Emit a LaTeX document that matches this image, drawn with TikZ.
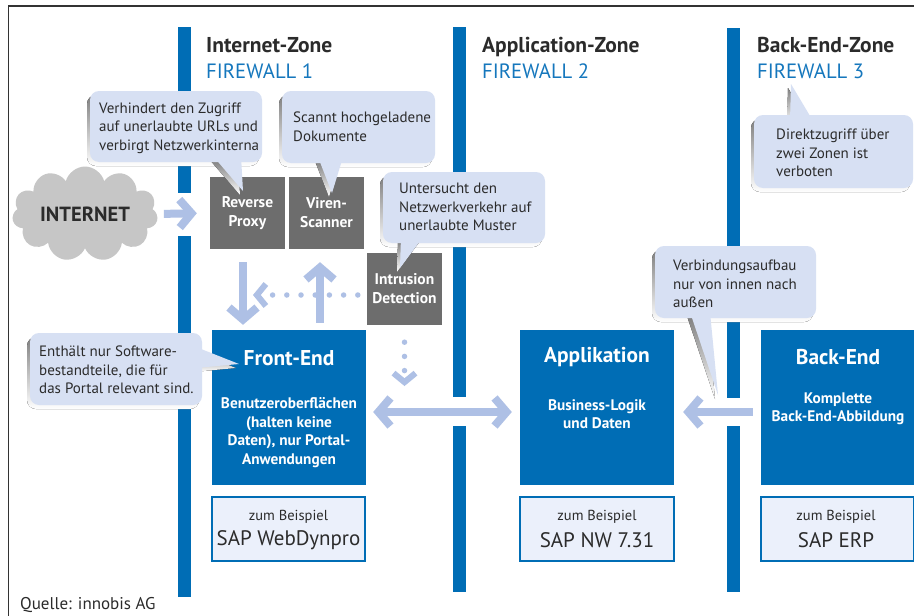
\documentclass[tikz,border=0pt]{standalone}
\usepackage{fontspec}
\setmainfont{PT Sans}
\usetikzlibrary{arrows.meta,shapes.symbols,calc}
\definecolor{fwblue}{HTML}{006DB5}
\definecolor{fwtext}{HTML}{1577BD}
\definecolor{callfill}{HTML}{D7E0F3}
\definecolor{shade}{HTML}{4D4D4D}
\definecolor{graybox}{HTML}{6D6D6D}
\definecolor{arrowc}{HTML}{AEC0E5}
\definecolor{exfill}{HTML}{EBF0FB}
\definecolor{txt}{HTML}{2B2B2B}
\definecolor{cloudgray}{HTML}{C6C6C6}
\newcommand\mybubble[2]{%
  \fill[shade,shift={(-3,4)},rounded corners=9pt] #1;
  \fill[shade,shift={(-3,4)}] #2;
  \fill[callfill,rounded corners=9pt] #1;
  \fill[callfill] #2;}
\tikzset{
  ztitle/.style={font=\bfseries\fontsize{21.5}{24}\selectfont, text=txt, anchor=base west, inner sep=0pt},
  fwlabel/.style={font=\fontsize{20.7}{24}\selectfont, text=fwtext, anchor=base west, inner sep=0pt},
  graynode/.style={fill=graybox, text=white, font=\bfseries\fontsize{15.5}{19}\selectfont, align=center, minimum width=75pt, minimum height=72pt, inner sep=0pt},
  bluebox/.style={fill=fwblue, minimum width=154pt, minimum height=155pt, inner sep=0pt},
  boxtitle/.style={text=white, font=\bfseries\fontsize{21.4}{24}\selectfont, inner sep=0pt},
  boxbody/.style={text=white, font=\bfseries\fontsize{15.3}{18.5}\selectfont, align=center, inner sep=0pt},
  exbox/.style={fill=exfill, draw=fwblue, line width=2pt, minimum width=153pt, minimum height=64pt, inner sep=0pt},
  exsmall/.style={text=txt, font=\fontsize{14.5}{16}\selectfont, inner sep=0pt},
  exbig/.style={text=txt, font=\fontsize{21}{24}\selectfont, inner sep=0pt},
  calltext/.style={text=txt, font=\fontsize{15}{18.5}\selectfont, align=left, anchor=west, inner sep=0pt},
  fatarrow/.style={draw=arrowc, line width=8pt, -{Straight Barb[length=12pt,width=28pt]}},
  dblarrow/.style={draw=arrowc, line width=8pt, {Straight Barb[length=12pt,width=28pt]}-{Straight Barb[length=12pt,width=28pt]}},
  dotarrow/.style={draw=arrowc, line width=5.5pt, line cap=round, dash pattern=on 0pt off 14.2pt, -{Straight Barb[length=9pt,width=22pt,line width=6pt]}},
  fwbar/.style={fill=fwblue},
}
\begin{document}
\begin{tikzpicture}[x=1pt,y=-1pt]
\useasboundingbox (0,0) rectangle (914,616);
\fill[white] (0,0) rectangle (914,616);
% frame
\draw[line width=1.3pt, black!80] (8.5,616) -- (8.5,6) -- (914,6);
% firewall bars
\fill[fwbar] (178,27) rectangle (191,193);
\fill[fwbar] (178,236) rectangle (191,597);
\fill[fwbar] (453,27) rectangle (466,397);
\fill[fwbar] (453,426) rectangle (466,592);
\fill[fwbar] (727,28) rectangle (740,398);
\fill[fwbar] (727,426) rectangle (740,592);
% zone titles
\node[ztitle] (z1) at (206,52) {Internet-Zone};
\node[fwlabel] (f1) at (206,78) {FIREWALL 1};
\node[ztitle] (z2) at (482,52) {Application-Zone};
\node[fwlabel] (f2) at (482,78) {FIREWALL 2};
\node[ztitle] (z3) at (757,52) {Back-End-Zone};
\node[fwlabel] (f3) at (757,78) {FIREWALL 3};
% cloud
\node[cloud, cloud puffs=11, aspect=2, fill=shade, minimum width=128pt, minimum height=66pt] (cloudsh) at (81,218) {};
\node[cloud, cloud puffs=11, aspect=2, fill=cloudgray, minimum width=128pt, minimum height=66pt, font=\bfseries\fontsize{20.5}{22}\selectfont, text=txt] (internet) at (85,214) {INTERNET};
% gray boxes
\node[graynode] (rp) at (247.5,213) {Reverse\\Proxy};
\node[graynode] (vs) at (326.5,213) {Viren-\\Scanner};
\node[graynode] (id) at (404.5,289) {Intrusion\\Detection};
% blue boxes
\node[bluebox] (fe) at (289,407.5) {};
\node[bluebox] (app) at (597,407.5) {};
\node[bluebox, minimum width=153pt] (be) at (837.5,407.5) {};
\node[boxtitle] (fet) at (289,358) {Front-End};
\node[boxbody] (feb) at (289,432.5) {Benutzeroberflächen\\(halten keine\\Daten), nur Portal-\\Anwendungen};
\node[boxtitle] (appt) at (597,357) {Applikation};
\node[boxbody] (appb) at (597,414) {Business-Logik\\und Daten};
\node[boxtitle] (bet) at (838,357) {Back-End};
\node[boxbody] (beb) at (838,409) {Komplette\\Back-End-Abbildung};
% example boxes
\node[exbox] (ex1) at (288.5,529) {};
\node[exbox, minimum width=154pt] (ex2) at (597,529) {};
\node[exbox, minimum width=153pt] (ex3) at (837.5,529) {};
\node[exsmall] (ex1a) at (288.5,517) {zum Beispiel};
\node[exbig] (ex1b) at (288.5,540) {SAP WebDynpro};
\node[exsmall] (ex2a) at (597,517) {zum Beispiel};
\node[exbig] (ex2b) at (597,540) {SAP NW 7.31};
\node[exsmall] (ex3a) at (836,517) {zum Beispiel};
\node[exbig] (ex3b) at (836,540) {SAP ERP};
% arrows
\coordinate (dotl) at (253,295);
\coordinate (dotd) at (404.5,386);
\draw[fatarrow, shorten <=7pt, shorten >=13pt] (internet.east) -- (rp.west);
\draw[fatarrow, shorten <=13pt, shorten >=5pt] ([xshift=-4.5pt]rp.south) -- ([xshift=-4.5pt]rp.south |- fe.north);
\draw[fatarrow, shorten <=7pt, shorten >=13pt] ([xshift=-6.5pt]vs.south |- fe.north) -- ([xshift=-6.5pt]vs.south);
\draw[dotarrow, shorten <=9pt] ([yshift=-6pt]id.west) -- (dotl);
\draw[dotarrow, shorten <=17pt] (id.south) -- (dotd);
\draw[dblarrow, shorten <=7pt, shorten >=8pt] ([yshift=-4.5pt]fe.east) -- ([yshift=-4.5pt]app.west);
\draw[fatarrow, shorten <=8pt, shorten >=9pt] ([yshift=-4.5pt]be.west) -- ([yshift=-4.5pt]app.east);
% callouts
\mybubble{(90,91) rectangle (262,162)}{(213,156) -- (243,191) -- (241,156) -- cycle}
\mybubble{(282,91) rectangle (435,163)}{(318,157) -- (332,193) -- (343,157) -- cycle}
\mybubble{(383,172) rectangle (545,243)}{(401,237) -- (400,268) -- (423,237) -- cycle}
\mybubble{(754,115) rectangle (913,188)}{(790,121) -- (791,84) -- (813,121) -- cycle}
\mybubble{(655,246) rectangle (816,318)}{(690,312) -- (718,395) -- (710,312) -- cycle}
\mybubble{(30,333) rectangle (202,405)}{(196,347) -- (239,364) -- (196,368) -- cycle}
\node[calltext] (c1) at (99,128) {Verhindert den Zugriff\\auf unerlaubte URLs und\\verbirgt Netzwerkinterna};
\node[calltext] (c2) at (293,126.5) {Scannt hochgeladene\\Dokumente};
\node[calltext] (c3) at (399,207) {Untersucht den\\Netzwerkverkehr auf\\unerlaubte Muster};
\node[calltext] (c4) at (776,153) {Direktzugriff über\\zwei Zonen ist\\verboten};
\node[calltext] (c5) at (673,284) {Verbindungsaufbau\\nur von innen nach\\außen};
\node[calltext] (c6) at (39,370) {Enthält nur Software-\\bestandteile, die für\\das Portal relevant sind.};
% source
\node[text=txt, font=\fontsize{17}{19}\selectfont, anchor=west, inner sep=0pt] (src) at (20,605) {Quelle: innobis AG};
\end{tikzpicture}
\end{document}
